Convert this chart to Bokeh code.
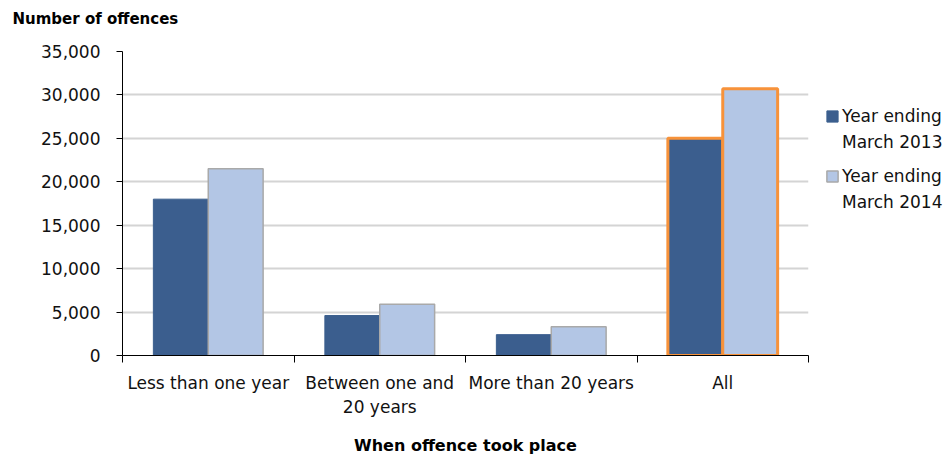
from bokeh.plotting import figure
from bokeh.layouts import row
from bokeh.models import Range1d, FixedTicker, Legend, LegendItem, NumeralTickFormatter, Title
from bokeh.embed import file_html
from bokeh.resources import INLINE

# Offences recorded, by when the offence took place
categories = ["Less than one year", "Between one and\n20 years", "More than 20 years", "All"]
series_labels = ["Year ending\nMarch 2013", "Year ending\nMarch 2014"]
offences_2013 = [18000, 4600, 2400, 25000]
offences_2014 = [21500, 5900, 3300, 30700]
y_ticks = [0, 5000, 10000, 15000, 20000, 25000, 30000, 35000]

DARK = "#3b5e8e"
LIGHT = "#b3c6e5"
LIGHT_EDGE = "#a9a9a9"
HIGHLIGHT = "#f7923a"
FONT = "DejaVu Sans"

n = len(categories)
centers = [i + 0.5 for i in range(n)]
bar_w = 0.32
shift = 0.16

p = figure(width=818, height=457, output_backend="svg", toolbar_location=None,
           x_range=Range1d(0, n), y_range=Range1d(0, y_ticks[-1]),
           min_border_left=122, min_border_right=10,
           min_border_top=51, min_border_bottom=101,
           title="Number of offences")
p.outline_line_color = None
p.background_fill_color = "white"

# Small gap between the plot frame and the caption above it
p.add_layout(Title(text=" ", text_font_size="2px", standoff=15), "above")

# Title doubles as the y-axis caption, sitting top-left
p.title.align = "left"
p.title.offset = -110
p.title.text_font = FONT
p.title.text_font_size = "15px"
p.title.text_font_style = "bold"
p.title.text_color = "#000000"
p.title.standoff = 10

# Highlight the "All" group with an orange outline
is_total = [c == "All" for c in categories]
edge_2013 = [HIGHLIGHT if t else DARK for t in is_total]
edge_2014 = [HIGHLIGHT if t else LIGHT_EDGE for t in is_total]
lw_2013 = [3 if t else 1 for t in is_total]
lw_2014 = [3 if t else 1.5 for t in is_total]

p.vbar(x=[c - shift for c in centers], top=offences_2013, width=bar_w,
       fill_color=DARK, line_color=edge_2013, line_width=lw_2013)
p.vbar(x=[c + shift for c in centers], top=offences_2014, width=bar_w,
       fill_color=LIGHT, line_color=edge_2014, line_width=lw_2014)

# Y axis
yax = p.yaxis[0]
yax.ticker = FixedTicker(ticks=y_ticks)
yax.formatter = NumeralTickFormatter(format="0,0")
yax.major_tick_out = 6
yax.major_tick_in = 0
yax.minor_tick_out = 0
yax.minor_tick_in = 0
yax.axis_line_color = "black"
yax.major_tick_line_color = "black"
yax.major_label_standoff = 16
yax.major_label_text_font = FONT
yax.major_label_text_font_size = "17px"
yax.major_label_text_color = "#111111"

# X axis: labels centred on each group, ticks on group boundaries
xax = p.xaxis[0]
xax.ticker = FixedTicker(ticks=centers, minor_ticks=list(range(n + 1)))
xax.major_label_overrides = {c: lab for c, lab in zip(centers, categories)}
xax.major_tick_out = 0
xax.major_tick_in = 0
xax.minor_tick_out = 7
xax.minor_tick_in = 0
xax.minor_tick_line_color = "black"
xax.axis_line_color = "black"
xax.major_label_standoff = 10
xax.major_label_text_font = FONT
xax.major_label_text_font_size = "17px"
xax.major_label_text_color = "#111111"
xax.axis_label = "When offence took place"
xax.axis_label_text_font = FONT
xax.axis_label_text_font_size = "16px"
xax.axis_label_text_font_style = "bold"
xax.axis_label_text_color = "#000000"
xax.axis_label_standoff = 16

p.xgrid.grid_line_color = None
p.ygrid.ticker = FixedTicker(ticks=y_ticks)
p.ygrid.grid_line_color = "#d4d4d4"
p.ygrid.grid_line_width = 2

# Legend panel to the right of the chart
lg = figure(width=128, height=457, output_backend="svg", toolbar_location=None,
            x_range=Range1d(0, 1), y_range=Range1d(0, 1),
            min_border=0, min_border_left=0, min_border_right=0,
            min_border_top=0, min_border_bottom=0)
lg.outline_line_color = None
lg.axis.visible = False
lg.grid.visible = False

swatches = [
    lg.vbar(x=[0.5], top=[0.5], width=0.1, fill_color=DARK, line_color=DARK, visible=False),
    lg.vbar(x=[0.5], top=[0.5], width=0.1, fill_color=LIGHT, line_color=LIGHT_EDGE,
            line_width=1.5, visible=False),
]
blank = lg.vbar(x=[0.5], top=[0.5], width=0.1, fill_alpha=0, line_alpha=0, visible=False)

for i, (label, swatch) in enumerate(zip(series_labels, swatches)):
    first, second = label.split("\n")
    leg = Legend(items=[LegendItem(label=first, renderers=[swatch]),
                        LegendItem(label=second, renderers=[blank])],
                 location=(7, 200 - 60 * i))
    leg.border_line_color = None
    leg.background_fill_alpha = 0
    leg.padding = 0
    leg.margin = 0
    leg.spacing = 0
    leg.glyph_width = 14
    leg.glyph_height = 14
    leg.label_height = 26
    leg.label_standoff = 3
    leg.label_text_font = FONT
    leg.label_text_font_size = "17px"
    leg.label_text_color = "#111111"
    lg.add_layout(leg, "center")

layout = row(p, lg, spacing=0)
open("out.html", "w").write(file_html(layout, INLINE))
